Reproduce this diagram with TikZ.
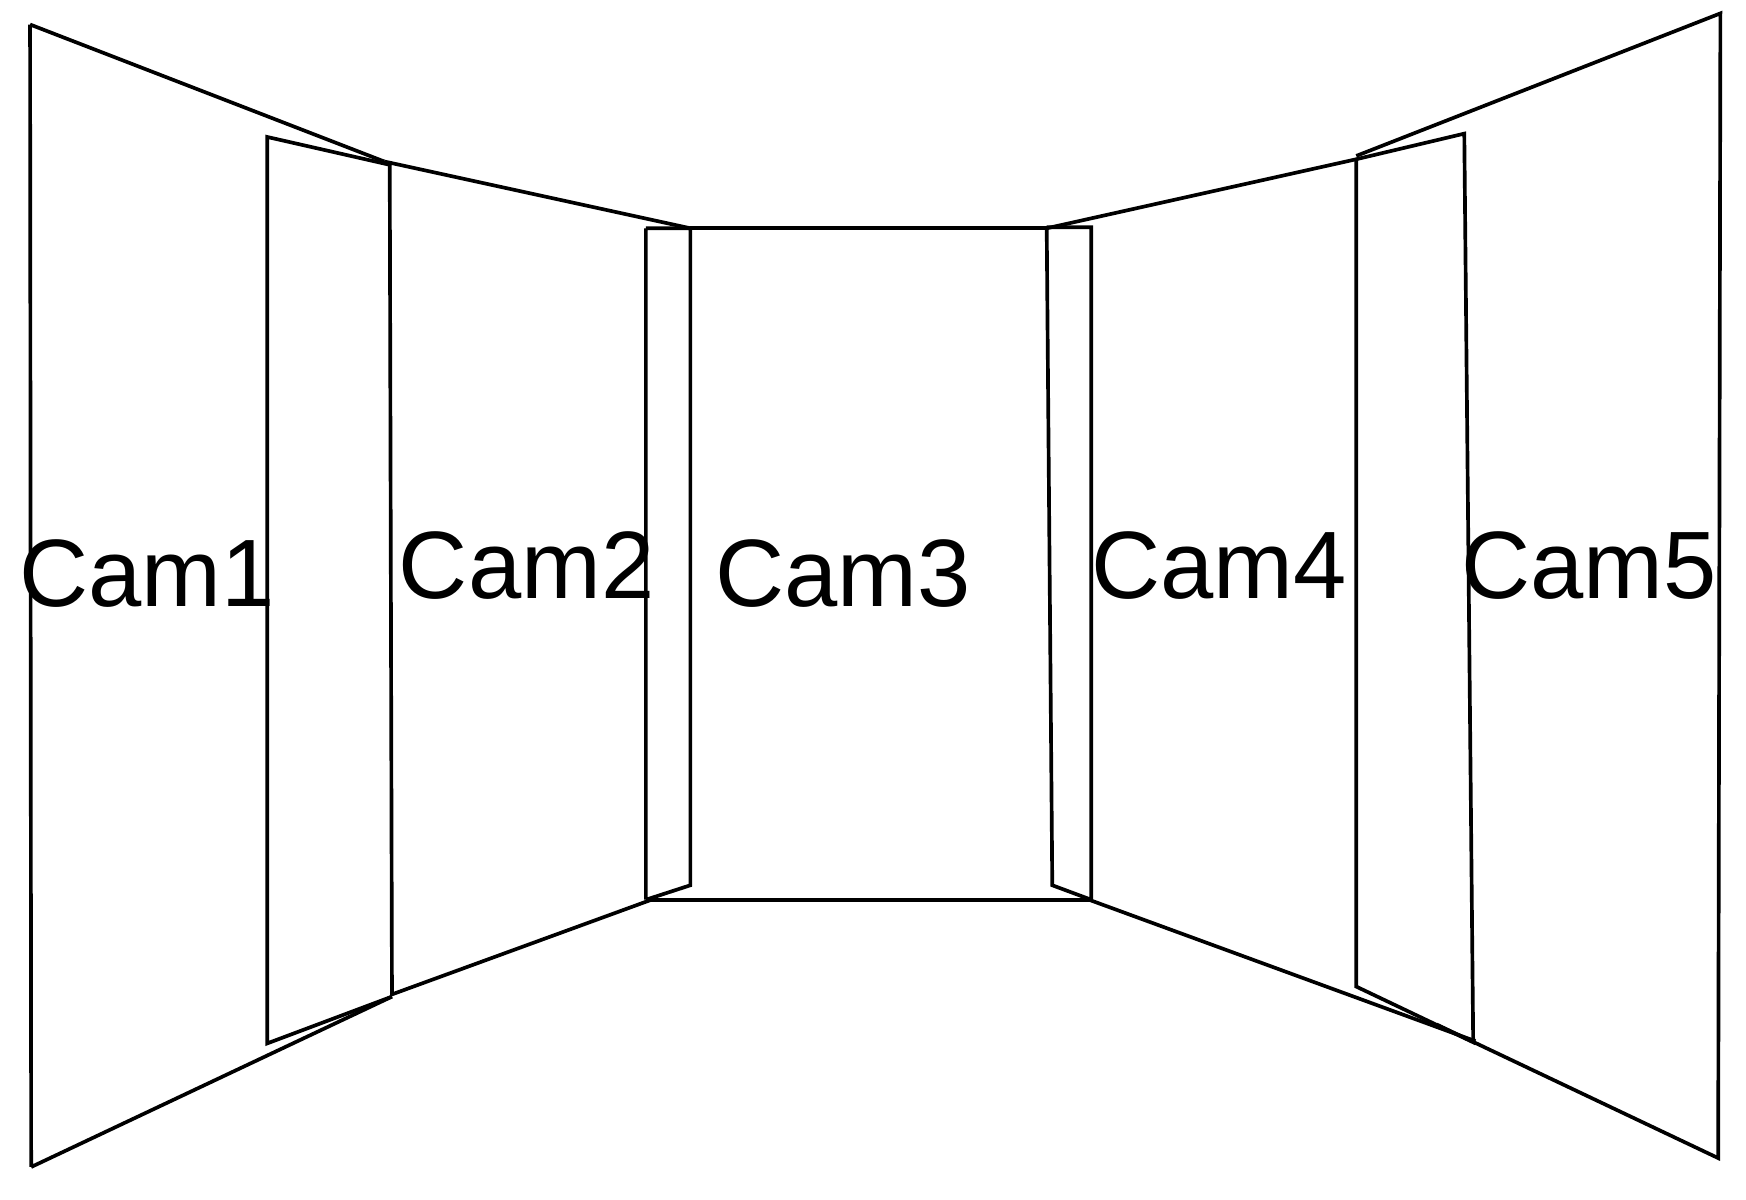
\documentclass[tikz,border=0pt]{standalone}
\usepackage{fontspec}
\setmainfont{Liberation Sans}
\begin{document}
\begin{tikzpicture}[x=1pt,y=-1pt,line width=3.3pt,line join=miter,
  lbl/.style={font=\fontsize{86}{90}\selectfont,inner sep=0}]
\useasboundingbox (0,0) rectangle (1568,1077);
% Cam1
\draw (27,22) -- (345,145) (28,1048) -- (352,895) (27,22) -- (28,1048);
\draw (350,148) -- (240,123) -- (240,937) -- (352,895);
% Cam2
\draw (345,145) -- (620,205) (350,148) -- (352,893) -- (585,808);
\draw (580,205) -- (620,205) (580,205) -- (580,808) (620,205) -- (620,795) -- (580,808);
% Cam3
\draw (620,205) -- (940,205) (585,808) -- (978,808);
% Cam4
\draw (940,205) -- (945,795) -- (980,808) (940,204) -- (980,204) -- (980,808);
\draw (940,205) -- (1218,143) (978,808) -- (1325,935);
\draw (1218,143) -- (1218,886) -- (1323,936) -- (1315,120) -- (1218,143);
% Cam5
\draw (1218,140) -- (1545,12) -- (1543,1040) -- (1290,920);
\node[lbl] (c1) at (132,515) {Cam1};
\node[lbl] (c2) at (473,508) {Cam2};
\node[lbl] (c3) at (757,515) {Cam3};
\node[lbl] (c4) at (1095,508) {Cam4};
\node[lbl] (c5) at (1427,508) {Cam5};
\end{tikzpicture}
\end{document}
